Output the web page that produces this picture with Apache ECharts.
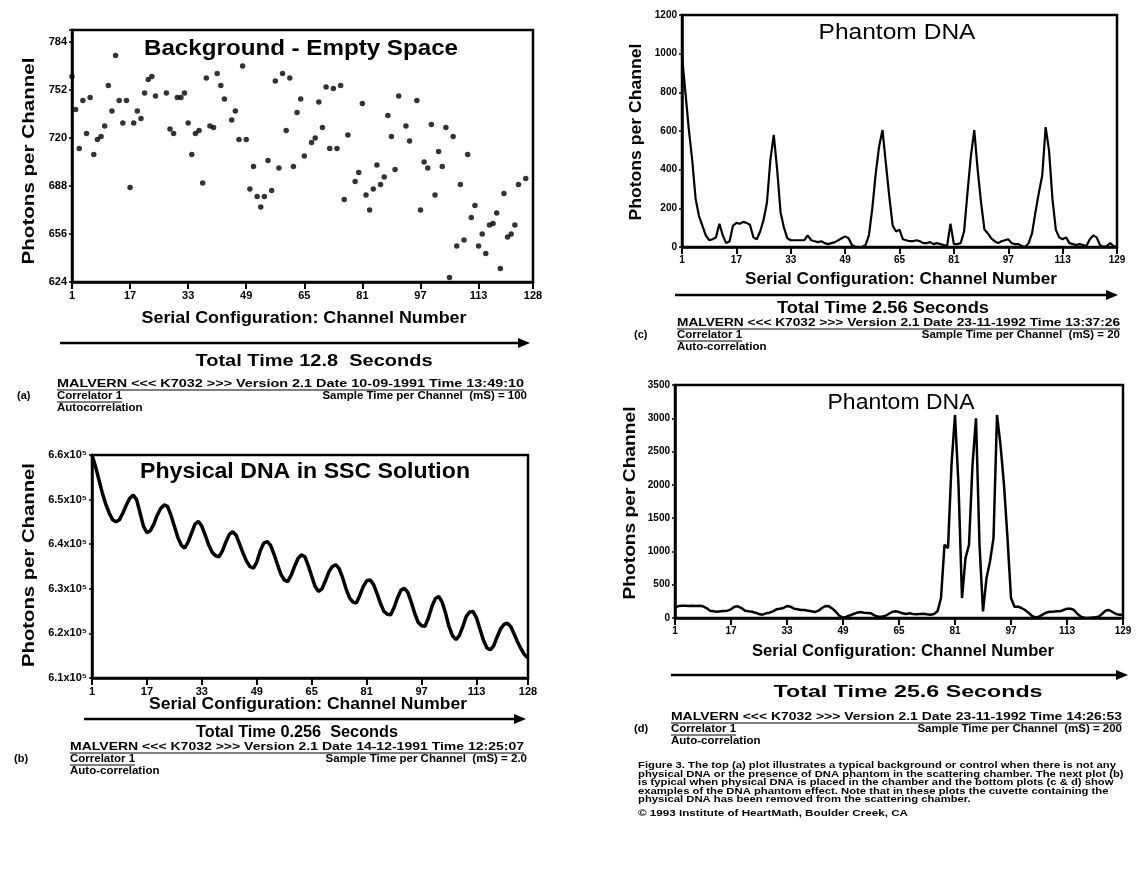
<!DOCTYPE html>
<html><head><meta charset="utf-8">
<script src="https://cdn.jsdelivr.net/npm/echarts@6/dist/echarts.min.js"></script>
<style>html,body{margin:0;padding:0;background:#fff}#c{width:1146px;height:872px}</style>
</head><body><div id="c"></div>
<script>
// ---------- DATA ----------
// (a) Background - Empty Space : channel / photons per channel
const bgChannels = [1,2,3,4,5,6,7,8,9,10,11,12,13,14,15,16,17,18,19,20,21,22,23,24,27,28,29,30,31,32,33,34,35,36,37,38,39,40,41,42,43,45,46,47,48,49,50,51,52,53,54,55,56,57,58,59,60,61,62,63,
  64,65,67,68,69,70,71,72,73,74,75,76,77,79,80,81,82,83,84,85,86,87,88,89,90,91,93,94,96,97,98,99,100,101,102,103,104,105,106,107,108,109,110,111,112,113,114,115,116,117,118,119,120,121,122,123,124,126];
const bgPhotons = [761,739,713,745,723,747,709,719,721,728,755,738,775,745,730,745,687,730,738,733,750,759,761,748,750,726,723,747,747,750,730,709,723,725,690,760,728,727,763,755,746,732,738,719,768,719,686,701,681,674,681,705,685,758,700,763,725,760,701,737,
  746,708,717,720,744,727,754,713,753,713,755,679,722,691,697,743,682,672,686,702,689,694,735,721,699,748,728,718,745,672,704,700,729,682,711,701,727,627,721,648,689,652,709,667,675,648,656,643,662,663,670,633,683,654,656,662,689,693];

// (b) Physical DNA in SSC Solution : photons per channel (x10^5), channels 1..128
const sscPhotons = [6.600,6.575,6.545,6.515,6.490,6.470,6.455,6.450,6.455,6.470,6.488,6.503,6.510,6.500,6.470,6.440,6.426,6.430,6.445,6.465,
  6.480,6.488,6.485,6.465,6.440,6.415,6.398,6.391,6.405,6.425,6.445,6.451,6.440,6.420,6.398,6.382,6.374,6.372,6.385,6.405,
  6.422,6.428,6.420,6.400,6.380,6.362,6.350,6.346,6.360,6.385,6.402,6.406,6.398,6.378,6.355,6.333,6.320,6.316,6.330,6.350,
  6.368,6.376,6.372,6.352,6.328,6.305,6.294,6.300,6.318,6.338,6.350,6.354,6.345,6.325,6.300,6.280,6.270,6.268,6.285,6.305,
  6.318,6.320,6.310,6.290,6.268,6.250,6.243,6.242,6.258,6.280,6.297,6.301,6.292,6.270,6.245,6.225,6.217,6.216,6.235,6.260,
  6.278,6.283,6.270,6.245,6.215,6.195,6.186,6.195,6.215,6.238,6.248,6.249,6.235,6.210,6.185,6.168,6.163,6.172,6.192,6.210,
  6.220,6.223,6.215,6.198,6.180,6.165,6.152,6.145];

// (c) Phantom DNA, 20 mS per channel, channels 1..129
const phantomC = [990,800,610,450,250,160,110,60,35,40,50,120,60,20,30,110,125,120,130,125,
  115,50,40,80,140,230,450,580,400,180,100,45,35,35,35,35,35,60,35,30,
  25,30,20,15,20,25,35,45,55,45,10,0,0,0,10,60,200,380,520,605,
  430,260,110,80,90,40,35,30,30,35,30,20,20,25,15,20,15,10,5,120,
  15,15,20,80,280,470,605,400,230,90,70,45,30,20,30,35,40,20,15,15,
  5,0,20,70,180,280,370,620,500,250,90,50,40,50,20,15,10,15,10,5,
  40,60,50,10,0,5,20,5,0];

// (d) Phantom DNA, 200 mS per channel, channels 1..129
const phantomD = [150,180,185,185,180,185,180,185,175,150,110,100,95,100,105,110,130,170,175,150,
  110,100,95,80,60,50,70,80,100,130,140,150,180,170,140,130,120,120,110,100,
  90,110,150,180,175,140,90,30,5,20,40,60,80,90,80,75,70,40,20,20,
  30,60,90,100,90,70,60,70,60,55,60,65,55,50,60,100,300,1100,1050,2300,
  3050,2000,300,900,1100,2300,3000,1100,100,600,850,1200,3050,2600,2000,1200,300,170,170,150,
  120,80,30,10,20,50,80,95,95,100,100,120,140,140,120,60,20,5,0,5,
  10,20,60,110,120,90,60,50,50];

const xTicks = [1,17,33,49,65,81,97,113,128,129];
const yTicksA = [624,656,688,720,752,784];
const yTicksB = [6.1,6.2,6.3,6.4,6.5,6.6];
const yTicksC = [0,200,400,600,800,1000,1200];
const yTicksD = [0,500,1000,1500,2000,2500,3000,3500];

const titles = ['Background - Empty Space','Physical DNA in SSC Solution','Phantom DNA','Phantom DNA'];
const xName = 'Serial Configuration: Channel Number';
const yName = 'Photons per Channel';
const totalTimes = ['Total Time 12.8  Seconds','Total Time 0.256  Seconds','Total Time 2.56 Seconds','Total Time 25.6 Seconds'];
const headers = [
  'MALVERN <<< K7032 >>> Version 2.1 Date 10-09-1991 Time 13:49:10',
  'MALVERN <<< K7032 >>> Version 2.1 Date 14-12-1991 Time 12:25:07',
  'MALVERN <<< K7032 >>> Version 2.1 Date 23-11-1992 Time 13:37:26',
  'MALVERN <<< K7032 >>> Version 2.1 Date 23-11-1992 Time 14:26:53'];
const sampleTimes = ['Sample Time per Channel  (mS) = 100','Sample Time per Channel  (mS) = 2.0','Sample Time per Channel  (mS) = 20','Sample Time per Channel  (mS) = 200'];
const autoLabels = ['Autocorrelation','Auto-correlation','Auto-correlation','Auto-correlation'];
const panelLetters = ['(a)','(b)','(c)','(d)'];
const captionLines = [
  'Figure 3. The top (a) plot illustrates a typical background or control when there is not any',
  'physical DNA or the presence of DNA phantom in the scattering chamber. The next plot (b)',
  'is typical when physical DNA is placed in the chamber and the bottom plots (c & d) show',
  'examples of the DNA phantom effect. Note that in these plots the cuvette containing the',
  'physical DNA has been removed from the scattering chamber.'];
const copyright = '\u00A9 1993 Institute of HeartMath, Boulder Creek, CA';

// ---------- LAYOUT ----------
const FF = '"Liberation Sans", Arial, Helvetica, sans-serif';
const grids = [
  {left:72, top:30, width:461, height:252},
  {left:92, top:455, width:436, height:223},
  {left:682, top:15, width:435, height:232},
  {left:675, top:385, width:448, height:233}
];
const blocks = [
  {title:[301,49,314,'bold 22px'], xn:[304,319,325], yn:[29,161,207], arrow:[60,530,343], total:[314,362,237],
   head:[57,384,467,527], letterX:17},
  {title:[305,472,330,'bold 22px'], xn:[308,705,318], yn:[29,565,204], arrow:[84,526,719], total:[297,733,202],
   head:[70,747,454,527], letterX:14},
  {title:[897,33,157,'22px'], xn:[901,280,312], yn:[636,132,177], arrow:[675,1118,295], total:[883,309,212],
   head:[677,323,443,1120], letterX:634},
  {title:[901,403,147,'22px'], xn:[903,652,302], yn:[630,503,193], arrow:[671,1128,675], total:[908,693,269],
   head:[671,717,451,1122], letterX:634}
];

const chart = echarts.init(document.getElementById('c'), null, {renderer:'canvas'});

const mctx = document.createElement('canvas').getContext('2d');
function tw(s, font){ mctx.font = font; return mctx.measureText(s).width; }

const graphic = [];
function addText(x, y, s, font, align, targetW, rot, sy){
  const w = tw(s, font);
  const sx = targetW ? targetW / w : 1;
  graphic.push({type:'text', x:x, y:y, rotation:rot||0, scaleX:sx, scaleY:sy||1, silent:true,
    style:{text:s, font:font, fill:'#000', textAlign:align||'left', textVerticalAlign:'middle', align:align||'left', verticalAlign:'middle'}});
  return w*sx;
}
function addLine(x1, y1, x2, y2, w){
  graphic.push({type:'line', silent:true, shape:{x1:x1, y1:y1, x2:x2, y2:y2}, style:{stroke:'#000', lineWidth:w}});
}
function addArrow(x1, x2, y){
  addLine(x1, y, x2-8, y, 2.5);
  graphic.push({type:'polygon', silent:true, shape:{points:[[x2-12,y-5],[x2,y],[x2-12,y+5]]}, style:{fill:'#000'}});
}

const hFont = 'bold 11.5px '+FF;
for (let i=0;i<4;i++){
  const b = blocks[i];
  addText(b.title[0], b.title[1], titles[i], b.title[3]+' '+FF, 'center', b.title[2]);
  addText(b.xn[0], b.xn[1], xName, 'bold 16px '+FF, 'center', b.xn[2]);
  addText(b.yn[0], b.yn[1], yName, 'bold 17px '+FF, 'center', b.yn[2], Math.PI/2);
  addArrow(b.arrow[0], b.arrow[1], b.arrow[2]);
  addText(b.total[0], b.total[1], totalTimes[i], 'bold 16px '+FF, 'center', b.total[2]);
  const hx = b.head[0], hy = b.head[1];
  addText(hx, hy, headers[i], hFont, 'left', b.head[2]);
  addLine(hx, hy+6, hx + b.head[2], hy+6, 1);
  addText(b.letterX, hy+12, panelLetters[i], 'bold 11px '+FF, 'left');
  const cw = addText(hx, hy+12, 'Correlator 1', hFont, 'left');
  addLine(hx, hy+18, hx + cw, hy+18, 1);
  addText(b.head[3], hy+12, sampleTimes[i], hFont, 'right');
  addText(hx, hy+24, autoLabels[i], hFont, 'left');
}
// caption (dense, squashed like the scan)
const capFont = 'bold 10px '+FF;
const capScale = 478 / tw(captionLines[0], capFont);
for (let k=0;k<captionLines.length;k++){
  graphic.push({type:'text', x:638, y:766 + k*8.5, scaleX:capScale, scaleY:0.85, silent:true,
    style:{text:captionLines[k], font:capFont, fill:'#000', textAlign:'left', textVerticalAlign:'middle', align:'left', verticalAlign:'middle'}});
}
addText(638, 813, copyright, 'bold 9.5px '+FF, 'left', 270);

function xAxisFor(i, max, lastLabel, fs){
  return {
    type:'value', gridIndex:i, min:1, max:max, interval:16,
    axisLine:{show:true, onZero:false, lineStyle:{color:'#000', width:2.5}},
    axisTick:{show:true, length:7, lineStyle:{color:'#000', width:2}},
    axisLabel:{color:'#000', fontSize:fs, fontWeight:'bold', fontFamily:FF, margin:8,
      formatter:function(v){ if (v===max) return lastLabel; return xTicks.indexOf(v)>=0 ? String(v) : ''; },
      showMinLabel:true, showMaxLabel:true},
    splitLine:{show:false}
  };
}
function yAxisFor(i, min, max, interval, fmt, fs){
  return {
    type:'value', gridIndex:i, min:min, max:max, interval:interval,
    axisLine:{show:true, lineStyle:{color:'#000', width:2.5}},
    axisTick:{show:true, length:3, lineStyle:{color:'#000', width:1.5}},
    axisLabel:{color:'#000', fontSize:fs, fontWeight:'bold', fontFamily:FF, margin:5, formatter:fmt},
    splitLine:{show:false}
  };
}

const option = {
  backgroundColor:'#fff',
  animation:false,
  grid: grids.map(g => Object.assign({show:true, borderColor:'#000', borderWidth:2.5, backgroundColor:'transparent'}, g)),
  xAxis:[xAxisFor(0,128,'128',11), xAxisFor(1,128,'128',11), xAxisFor(2,129,'129',10), xAxisFor(3,129,'129',10)],
  yAxis:[
    yAxisFor(0, 624, 792, 32, v => yTicksA.indexOf(v)>=0 ? String(v) : '', 11),
    yAxisFor(1, 6.1, 6.6, 0.1, v => { const r=Math.round(v*10)/10; return yTicksB.indexOf(r)>=0 ? r.toFixed(1)+'x10\u2075' : ''; }, 11),
    yAxisFor(2, 0, 1200, 200, v => yTicksC.indexOf(v)>=0 ? String(v) : '', 10),
    yAxisFor(3, 0, 3500, 500, v => yTicksD.indexOf(v)>=0 ? String(v) : '', 10)
  ],
  series:[
    {type:'scatter', xAxisIndex:0, yAxisIndex:0, symbol:'circle', symbolSize:5.5,
      itemStyle:{color:'#000'}, data: bgChannels.map((c,k)=>[c, bgPhotons[k]])},
    {type:'line', xAxisIndex:1, yAxisIndex:1, showSymbol:false, symbol:'none',
      lineStyle:{color:'#000', width:3.5}, data: sscPhotons.map((v,k)=>[k+1, v])},
    {type:'line', xAxisIndex:2, yAxisIndex:2, showSymbol:false, symbol:'none',
      lineStyle:{color:'#000', width:2.2}, data: phantomC.map((v,k)=>[k+1, v])},
    {type:'line', xAxisIndex:3, yAxisIndex:3, showSymbol:false, symbol:'none',
      lineStyle:{color:'#000', width:2.5}, data: phantomD.map((v,k)=>[k+1, v])}
  ],
  graphic: graphic
};
chart.setOption(option);
</script>
</body></html>
